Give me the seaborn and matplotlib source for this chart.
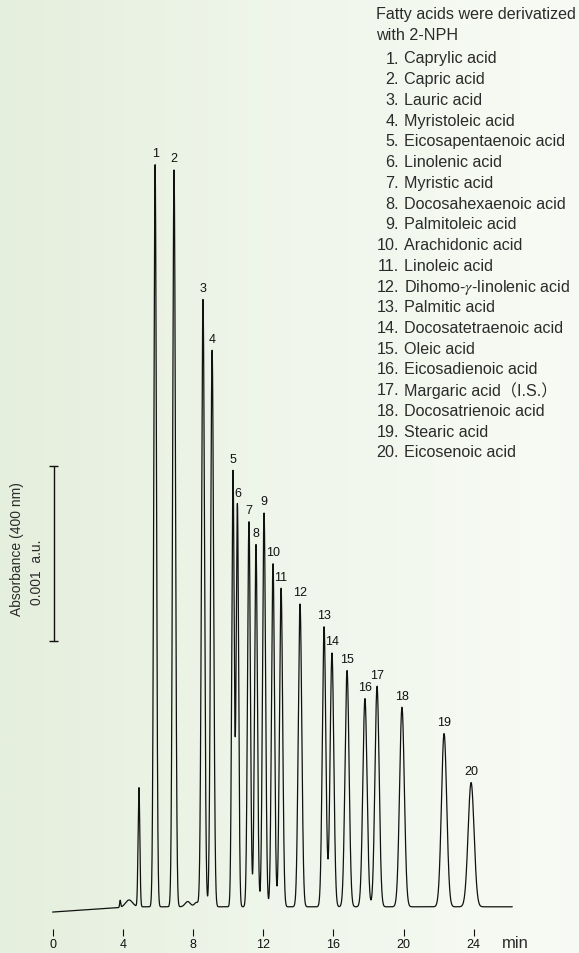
"""
plot.py
HPLC chromatogram of 2-NPH derivatized fatty acids
"""

import numpy as np
import pandas as pd
import matplotlib
matplotlib.use("Agg")
import matplotlib.pyplot as plt
from matplotlib.colors import LinearSegmentedColormap
import seaborn as sns

# ------------------ Data ------------------
# retention time (min), height (0.001 a.u. units), peak sigma (min)
peak_num = list(range(1, 21))
peak_rt = [5.84, 6.92, 8.57, 9.09, 10.28, 10.53, 11.19, 11.59, 12.05, 12.56,
           13.02, 14.10, 15.47, 15.92, 16.78, 17.80, 18.49, 19.91, 22.31, 23.85]
peak_height = [4.24, 4.21, 3.47, 3.18, 2.49, 2.30, 2.20, 2.07, 2.25, 1.96,
               1.82, 1.73, 1.60, 1.45, 1.35, 1.19, 1.26, 1.14, 0.99, 0.71]
peak_sigma = [0.075, 0.08, 0.085, 0.085, 0.07, 0.07, 0.08, 0.08, 0.085, 0.085,
              0.09, 0.10, 0.10, 0.105, 0.115, 0.12, 0.12, 0.135, 0.15, 0.17]

# unlabeled minor peaks / baseline humps
minor_rt = [3.85, 4.35, 4.92, 7.7, 8.2]
minor_height = [0.04, 0.04, 0.68, 0.03, 0.025]
minor_sigma = [0.03, 0.2, 0.05, 0.15, 0.12]

baseline_level = 0.03
run_end = 26.2

tick_values = [0, 4, 8, 12, 16, 20, 24]

compounds = ["Caprylic acid", "Capric acid", "Lauric acid", "Myristoleic acid",
             "Eicosapentaenoic acid", "Linolenic acid", "Myristic acid",
             "Docosahexaenoic acid", "Palmitoleic acid", "Arachidonic acid",
             "Linoleic acid", r"Dihomo-$\mathit{\gamma}$-linolenic acid", "Palmitic acid",
             "Docosatetraenoic acid", "Oleic acid", "Eicosadienoic acid",
             "Margaric acid（I.S.）", "Docosatrienoic acid", "Stearic acid",
             "Eicosenoic acid"]

# ------------------ Build trace ------------------
t = np.arange(0, run_end, 0.002)
signal = baseline_level * np.clip(t / 4.5, 0, 1)
for rt, h, s in zip(peak_rt + minor_rt, peak_height + minor_height, peak_sigma + minor_sigma):
    signal += h * np.exp(-0.5 * ((t - rt) / s) ** 2)
trace = pd.DataFrame({"time": t, "abs": signal})

# ------------------ Plot ------------------
sns.set_style("white")
plt.rcParams["font.family"] = ["Liberation Sans", "Noto Sans CJK JP", "DejaVu Sans"]
plt.rcParams["mathtext.fontset"] = "stix"
text_col = "#2b2b2b"
mark_col = "#111111"

fig = plt.figure(figsize=(5.79, 9.54), dpi=100)
ax = fig.add_axes([0, 0, 1, 1])
xlim = (-3.0, 30.0)
ylim = (-0.234, 5.217)

# light green gradient background
bg = LinearSegmentedColormap.from_list("bg", ["#e5efdd", "#f0f6eb", "#f8fbf5"])
ax.imshow(np.linspace(0, 1, 256)[None, :], cmap=bg, aspect="auto",
          extent=[xlim[0], xlim[1], ylim[0], ylim[1]], zorder=0)

sns.lineplot(data=trace, x="time", y="abs", ax=ax, color=mark_col,
             lw=0.9, estimator=None, sort=False, zorder=3)

# peak numbers
for n, rt, h in zip(peak_num, peak_rt, peak_height):
    ax.annotate(str(n), (rt, h + baseline_level), xytext=(0, 4), textcoords="offset points",
                ha="center", va="bottom", fontsize=9, color=mark_col)

# time axis ticks
ax.vlines(tick_values, -0.097, -0.137, color=mark_col, lw=0.8)
for v in tick_values:
    ax.text(v, -0.185, str(v), ha="center", va="center", fontsize=9, color=mark_col)
ax.text(26.35, -0.172, "min", ha="center", va="center", fontsize=12, color=text_col)

# absorbance scale bar
bar_lo, bar_hi = 1.549, 2.549
ax.plot([0.05, 0.05], [bar_lo, bar_hi], color=mark_col, lw=1.0)
ax.hlines([bar_lo, bar_hi], -0.2, 0.3, color=mark_col, lw=1.0)
ax.text(-2.02, (bar_lo + bar_hi) / 2 + 0.03, "Absorbance (400 nm)", rotation=90,
        ha="center", va="center", fontsize=10, color=text_col)
ax.text(-0.9, (bar_lo + bar_hi) / 2 - 0.1, "0.001  a.u.", rotation=90,
        ha="center", va="center", fontsize=10, color=text_col)

# compound list
def py(p):
    return 1 - p / 954

ax.text(376 / 579, py(14), "Fatty acids were derivatized", transform=ax.transAxes,
        ha="left", va="center", fontsize=11.6, color=text_col)
ax.text(376 / 579, py(36), "with 2-NPH", transform=ax.transAxes,
        ha="left", va="center", fontsize=11.6, color=text_col)
for i, name in enumerate(compounds):
    yy = py(59 + i * 20.73)
    ax.text(399 / 579, yy, f"{i + 1}.", transform=ax.transAxes,
            ha="right", va="center", fontsize=11.6, color=text_col)
    ax.text(404 / 579, yy, name, transform=ax.transAxes,
            ha="left", va="center", fontsize=11.6, color=text_col)

ax.set_xlim(*xlim)
ax.set_ylim(*ylim)
ax.set_axis_off()

fig.savefig("out.png", dpi=100)
